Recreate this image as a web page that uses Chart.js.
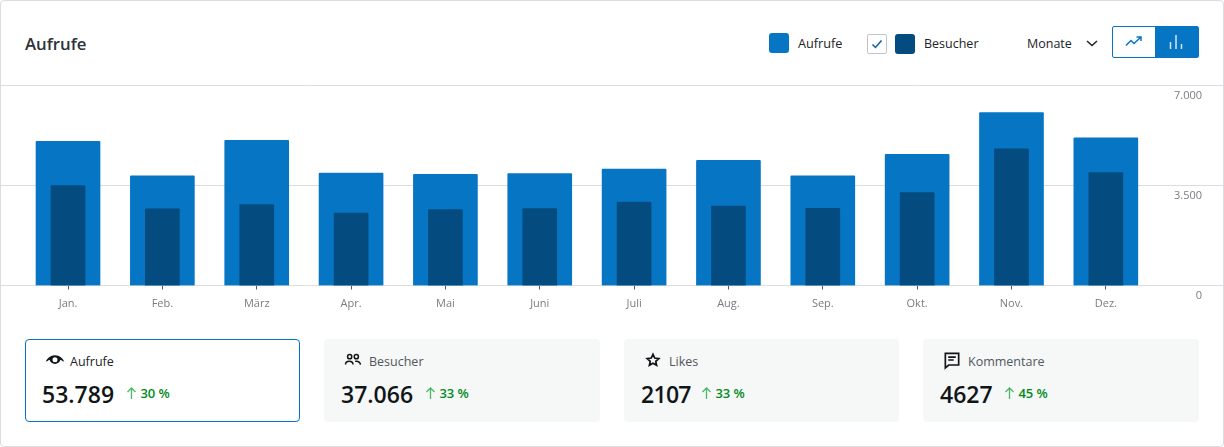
<!DOCTYPE html>
<html lang="de">
<head>
<meta charset="utf-8">
<title>Aufrufe</title>
<script src="https://cdn.jsdelivr.net/npm/chart.js@4"></script>
<style>
  html, body { margin: 0; padding: 0; background: #fff; }
  body { width: 1224px; height: 447px; overflow: hidden; position: relative; font-family: "Open Sans", sans-serif; color: #1d2327; }
  .frame { position: absolute; left: 0; top: 0; width: 1222px; height: 445px; border: 1px solid #dcdcde; border-radius: 4px; }
  .abs { position: absolute; white-space: nowrap; }
  .title { left: 25px; top: 32px; font-size: 16.8px; line-height: 24px; font-weight: 600; color: #2c3338; }
  .swatch { position: absolute; width: 20px; height: 20px; border-radius: 3px; }
  .legend-label { font-size: 12.5px; line-height: 18px; color: #1d2327; }
  .check { position: absolute; left: 867px; top: 34px; width: 18px; height: 18px; border: 1px solid #c3c4c7; border-radius: 2px; }
  .btns { position: absolute; left: 1112px; top: 26px; width: 85px; height: 30px; border: 1px solid #0675c4; border-radius: 2px; }
  .btns .on { position: absolute; left: 42px; top: 0; width: 43px; height: 30px; background: #0675c4; }
  canvas#chart { position: absolute; left: 1px; top: 80px; }
  .card { position: absolute; top: 339px; height: 83px; background: #f6f7f7; border-radius: 4px; box-sizing: border-box; }
  .card.active { background: #fff; border: 1px solid #0675c4; }
  .card svg { position: absolute; left: 19px; top: 11px; }
  .card .name { position: absolute; left: 45px; top: 14px; font-size: 12.5px; line-height: 18px; color: #50575e; white-space: nowrap; }
  .card.active .name { color: #1d2327; left: 44px; top: 13px; }
  .card .num { position: absolute; left: 17px; top: 38px; font-size: 23px; line-height: 34px; font-weight: 600; color: #101517; white-space: nowrap; }
  .card.active .num { left: 16px; top: 37px; }
  .card .delta { position: absolute; top: 44px; font-size: 13px; line-height: 20px; font-weight: 600; color: #008a20; white-space: nowrap; }
  .card.active .delta { top: 43px; }
</style>
</head>
<body>
<div class="frame"></div>
<div class="abs title">Aufrufe</div>

<div class="swatch" style="left:769px;top:33px;background:#0675c4"></div>
<div class="abs legend-label" style="left:798px;top:34px;font-size:12.7px">Aufrufe</div>
<div class="check">
  <svg width="18" height="18" viewBox="0 0 18 18"><path d="M4.500 9.500l3 3 6-7" fill="none" stroke="#04609f" stroke-width="1.500"/></svg>
</div>
<div class="swatch" style="left:895px;top:34px;background:#044b7f"></div>
<div class="abs legend-label" style="left:924px;top:35px">Besucher</div>
<div class="abs legend-label" style="left:1027px;top:35px">Monate</div>
<svg class="abs" style="left:1085px;top:38px" width="14" height="12" viewBox="0 0 14 12"><path d="M2 3l5 4.500L12 3" fill="none" stroke="#1d2327" stroke-width="1.500"/></svg>
<div class="btns">
  <svg style="position:absolute;left:11px;top:5px" width="20" height="20" viewBox="0 0 20 20"><path d="M2 13.500l5-5 3 3 6.500-6M12.500 5h4.500v4" fill="none" stroke="#0675c4" stroke-width="1.500"/></svg>
  <div class="on">
    <svg style="position:absolute;left:11px;top:5px" width="20" height="20" viewBox="0 0 20 20"><path d="M4.500 17V10M10 17V3M15.500 17v-5" fill="none" stroke="#d5e6f3" stroke-width="1.500"/></svg>
  </div>
</div>

<canvas id="chart" width="1222" height="240"></canvas>

<div class="card active" style="left:25px;width:275px">
  <svg width="20" height="20" viewBox="0 0 24 24"><path d="M12 5C6.500 5 2.400 9 1 12.600c1.200.4 2.400-1 4.500-2 .8 3 3.400 5 6.500 5s5.700-2 6.500-5c2.100 1 3.300 2.400 4.500 2C21.600 9 17.500 5 12 5zm0 8.500a3 3 0 1 1 0-6 3 3 0 0 1 0 6z" fill="#101517"/></svg>
  <div class="name">Aufrufe</div>
  <div class="num">53.789</div>
  <div class="delta" style="left:100px"><svg style="position:static;vertical-align:-2px" width="11" height="14" viewBox="0 0 11 14"><path d="M5.500 13V2M1.500 6l4-4 4 4" fill="none" stroke="#4ab866" stroke-width="1.300"/></svg> 30 %</div>
</div>
<div class="card" style="left:324px;width:276px">
  <svg width="20" height="20" viewBox="0 0 24 24"><path d="M3 17.500c0-2.500 2-4 4.500-4s4.500 1.500 4.500 4M14.500 13.700c.5-.2 1-.2 1.500-.2 2.500 0 4.500 1.500 5 4" fill="none" stroke="#101517" stroke-width="1.800"/><circle cx="8" cy="8" r="2.500" fill="none" stroke="#101517" stroke-width="1.800"/><circle cx="16" cy="8" r="2.500" fill="none" stroke="#101517" stroke-width="1.800"/></svg>
  <div class="name">Besucher</div>
  <div class="num">37.066</div>
  <div class="delta" style="left:101px"><svg style="position:static;vertical-align:-2px" width="11" height="14" viewBox="0 0 11 14"><path d="M5.500 13V2M1.500 6l4-4 4 4" fill="none" stroke="#4ab866" stroke-width="1.300"/></svg> 33 %</div>
</div>
<div class="card" style="left:624px;width:275px">
  <svg style="left:21px;top:13px" width="16" height="16" viewBox="0 0 24 24"><path d="M12 3.500l2.600 5.600 6.100.7-4.500 4.200 1.200 6-5.400-3-5.400 3 1.200-6-4.500-4.200 6.100-.7z" fill="none" stroke="#101517" stroke-width="2.600"/></svg>
  <div class="name">Likes</div>
  <div class="num" style="letter-spacing:-0.7px">2107</div>
  <div class="delta" style="left:77px"><svg style="position:static;vertical-align:-2px" width="11" height="14" viewBox="0 0 11 14"><path d="M5.500 13V2M1.500 6l4-4 4 4" fill="none" stroke="#4ab866" stroke-width="1.300"/></svg> 33 %</div>
</div>
<div class="card" style="left:923px;width:276px">
  <svg width="20" height="20" viewBox="0 0 24 24"><path d="M4 4h16v14H8l-4 3.500zM7.500 8.500h9M7.500 12h6.500" fill="none" stroke="#101517" stroke-width="2"/></svg>
  <div class="name">Kommentare</div>
  <div class="num">4627</div>
  <div class="delta" style="left:81px"><svg style="position:static;vertical-align:-2px" width="11" height="14" viewBox="0 0 11 14"><path d="M5.500 13V2M1.500 6l4-4 4 4" fill="none" stroke="#4ab866" stroke-width="1.300"/></svg> 45 %</div>
</div>

<script>
const months = ['Jan.', 'Feb.', 'März', 'Apr.', 'Mai', 'Juni', 'Juli', 'Aug.', 'Sep.', 'Okt.', 'Nov.', 'Dez.'];
const aufrufe = [5050, 3840, 5085, 3935, 3895, 3915, 4075, 4385, 3840, 4595, 6050, 5170];
const besucher = [3500, 2680, 2835, 2535, 2660, 2695, 2920, 2780, 2705, 3255, 4780, 3955];
const yTickLabels = ['0', '3.500', '7.000'];

// gridlines run the full card width, past the plot area
const fullWidthGrid = {
  id: 'fullWidthGrid',
  beforeDatasetsDraw(chart) {
    const { ctx, width, scales: { y } } = chart;
    ctx.save();
    ctx.strokeStyle = '#dcdcde';
    ctx.lineWidth = 1;
    y.ticks.forEach(t => {
      const py = Math.floor(y.getPixelForValue(t.value)) + 0.5;
      ctx.beginPath();
      ctx.moveTo(0, py);
      ctx.lineTo(width, py);
      ctx.stroke();
    });
    ctx.restore();
  }
};

new Chart(document.getElementById('chart').getContext('2d'), {
  type: 'bar',
  data: {
    labels: months,
    datasets: [
      { label: 'Besucher', data: besucher, backgroundColor: '#044b7f', barThickness: 34, borderRadius: { topLeft: 1, topRight: 1 }, order: 1 },
      { label: 'Aufrufe', data: aufrufe, backgroundColor: '#0675c4', barThickness: 64, borderRadius: { topLeft: 1, topRight: 1 }, order: 2 },
    ]
  },
  options: {
    responsive: false,
    animation: false,
    layout: { padding: { left: 19.85, top: 5.5, right: 21, bottom: 0 } },
    plugins: { legend: { display: false }, tooltip: { enabled: false } },
    scales: {
      x: {
        grid: { offset: false, drawOnChartArea: false, color: '#50575e', tickLength: 4, tickWidth: 1 },
        border: { display: false },
        ticks: { color: '#787c82', font: { family: '"Open Sans"', size: 11 }, padding: 8, maxRotation: 0, autoSkip: false },
        afterFit: axis => { axis.height = 34.5; },
      },
      y: {
        position: 'right',
        min: 0,
        max: 7000,
        afterBuildTicks: axis => { axis.ticks = [{ value: 0 }, { value: 3500 }, { value: 7000 }]; },
        grid: { display: false },
        border: { display: false },
        ticks: {
          color: '#787c82',
          font: { family: '"Open Sans"', size: 11 },
          crossAlign: 'far',
          padding: 0,
          labelOffset: 10,
          callback: (v, i) => yTickLabels[i],
        },
        afterFit: axis => { axis.width = 49; axis.paddingTop = 0; axis.paddingBottom = 0; },
      }
    },
    datasets: { bar: { grouped: false } },
  },
  plugins: [fullWidthGrid],
});
</script>
</body>
</html>
